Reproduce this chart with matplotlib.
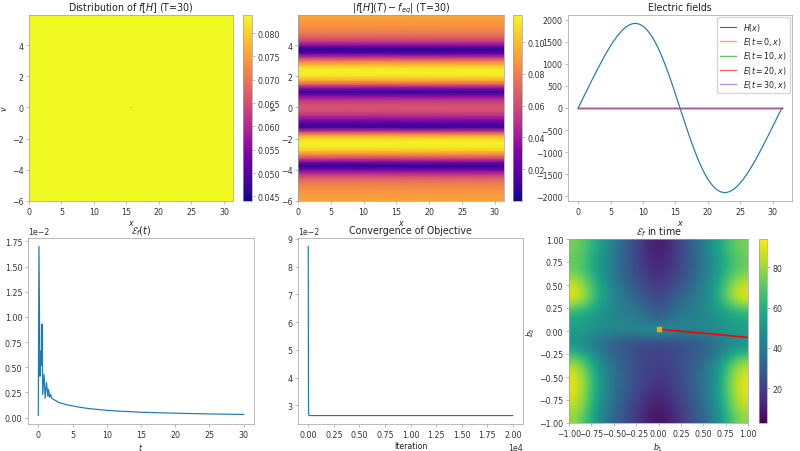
import numpy as np
import matplotlib
matplotlib.use("Agg")
import matplotlib.pyplot as plt

# --- data ---
# f[H] at T=30: almost flat, one dip at the centre
f_level = 0.0839
f_dip = 0.044
x_max = 31.4
v_min, v_max = -6.0, 5.93

# |f[H](T) - f_eq| profile along v (constant along x)
v_prof = [-6.0, -5.75, -5.5, -5.25, -5.0, -4.75, -4.5, -4.25, -4.0, -3.75,
          -3.5, -3.25, -3.0, -2.75, -2.5, -2.25, -2.0, -1.75, -1.5, -1.25,
          -1.0, -0.75, -0.5, -0.25, 0.0, 0.25, 0.5, 0.75, 1.0, 1.25,
          1.5, 1.75, 2.0, 2.25, 2.5, 2.75, 3.0, 3.25, 3.5, 3.75,
          4.0, 4.25, 4.5, 4.75, 5.0, 5.25, 5.5, 5.75, 6.0]
diff_prof = [0.092, 0.091, 0.089, 0.086, 0.082, 0.076, 0.066, 0.050, 0.030, 0.006,
             0.030, 0.060, 0.085, 0.104, 0.114, 0.115, 0.108, 0.088, 0.050, 0.010,
             0.018, 0.035, 0.050, 0.060, 0.064, 0.060, 0.050, 0.032, 0.008, 0.035,
             0.070, 0.095, 0.110, 0.116, 0.112, 0.098, 0.078, 0.048, 0.018, 0.006,
             0.035, 0.055, 0.068, 0.077, 0.083, 0.087, 0.089, 0.091, 0.092]

# electric fields
x_field = [0, 0.5, 1, 1.5, 2, 2.5, 3, 3.5, 4, 4.5, 5, 5.5, 6, 6.5, 7, 7.5,
           8, 8.5, 9, 9.5, 10, 10.5, 11, 11.5, 12, 12.5, 13, 13.5, 14, 14.5,
           15, 15.5, 15.71,
           15.92, 16.42, 16.92, 17.42, 17.92, 18.42, 18.92, 19.42, 19.92, 20.42,
           20.92, 21.42, 21.92, 22.42, 22.92, 23.42, 23.92, 24.42, 24.92, 25.42,
           25.92, 26.42, 26.92, 27.42, 27.92, 28.42, 28.92, 29.42, 29.92, 30.42,
           30.92, 31.42]
H_field = [0, 150, 300, 448, 596, 741, 884, 1024, 1159, 1288, 1409, 1522, 1624,
           1714, 1789, 1849, 1890, 1913, 1915, 1895, 1853, 1788, 1701, 1591,
           1459, 1307, 1137, 950, 750, 538, 318, 94, 0,
           -94, -318, -538, -750, -950, -1137, -1307, -1459, -1591, -1701,
           -1788, -1853, -1895, -1915, -1913, -1890, -1849, -1789, -1714, -1624,
           -1522, -1409, -1288, -1159, -1024, -884, -741, -596, -448, -300,
           -150, 0]
E_times = [0, 10, 20, 30]
E_x = [0, 31.42]
E_vals = [[0, 0], [0, 0], [0, 0], [0, 0]]

# E_f(t)
t_vals = [0, 0.1, 0.25, 0.35, 0.42, 0.48, 0.55, 0.65, 0.85, 1.0, 1.2, 1.4, 1.5,
          1.65, 1.8, 2.0, 2.5, 3, 4, 5, 6, 7, 8, 10, 12, 15, 20, 25, 30]
Ef_vals = [0.0002, 0.0170, 0.0041, 0.0066, 0.0052, 0.0065, 0.0093, 0.0023, 0.0043,
           0.0019, 0.0035, 0.0021, 0.0028, 0.0020, 0.0023, 0.0019, 0.0017, 0.0015,
           0.0013, 0.00116, 0.00103, 0.00093, 0.00085, 0.00072, 0.00063, 0.00053,
           0.00043, 0.00036, 0.00031]

# objective convergence
iters = [0, 25, 50, 100, 500, 2000, 20000]
objective = [0.0873, 0.0300, 0.0265, 0.0263, 0.0263, 0.0263, 0.0263]

# E_f over (b1, b2), rows from b2=1 down to b2=-1, cols b1=-1..1
Ef_map = [
    [76, 56, 36, 20, 6, 20, 36, 56, 76],
    [74, 54, 35, 20, 8, 20, 35, 54, 74],
    [72, 52, 34, 21, 10, 21, 34, 52, 72],
    [80, 54, 35, 23, 13, 23, 35, 54, 80],
    [90, 57, 38, 27, 17, 27, 38, 57, 90],
    [91, 57, 40, 33, 20, 33, 40, 57, 91],
    [68, 52, 42, 38, 24, 38, 42, 52, 68],
    [56, 48, 44, 42, 30, 42, 44, 48, 56],
    [55, 48, 44, 45, 55, 45, 44, 48, 55],
    [48, 36, 29, 24, 22, 24, 29, 36, 48],
    [62, 40, 29, 23, 21, 23, 29, 40, 62],
    [82, 46, 32, 23, 19, 23, 32, 46, 82],
    [90, 50, 33, 23, 16, 23, 33, 50, 90],
    [92, 51, 33, 22, 14, 22, 33, 51, 92],
    [90, 50, 32, 20, 10, 20, 32, 50, 90],
    [86, 48, 30, 18, 7, 18, 30, 48, 86],
    [80, 45, 28, 16, 4, 16, 28, 45, 80],
]
Ef_range = (2.7, 94)
b_path = [0.0, 1.0]
b2_path = [0.02, -0.07]

# --- style ---
plt.rcParams.update({
    "font.size": 5.7,
    "axes.titlesize": 6.85,
    "axes.titlepad": 3.5,
    "axes.labelsize": 5.7,
    "axes.labelpad": 2.0,
    "axes.linewidth": 0.5,
    "axes.edgecolor": "#a0a0a0",
    "xtick.color": "#a0a0a0",
    "ytick.color": "#a0a0a0",
    "xtick.labelcolor": "#333333",
    "ytick.labelcolor": "#333333",
    "xtick.major.size": 2,
    "ytick.major.size": 2,
    "xtick.major.width": 0.5,
    "ytick.major.width": 0.5,
    "xtick.major.pad": 2,
    "ytick.major.pad": 2,
    "text.color": "#222222",
    "axes.labelcolor": "#222222",
    "legend.fontsize": 5.7,
    "lines.linewidth": 0.85,
})

W, H = 800, 452
fig = plt.figure(figsize=(8, 4.52), dpi=100)


def box(x0, y0, x1, y1):
    return [x0 / W, 1 - y1 / H, (x1 - x0) / W, (y1 - y0) / H]


# top left
ax1 = fig.add_axes(box(29, 16, 233, 202))
cax1 = fig.add_axes(box(243, 16, 252, 202))
fgrid = np.full((400, 400), f_level)
fgrid[200, 200] = f_dip
im1 = ax1.imshow(fgrid, origin="lower", extent=[0, x_max, v_min, v_max],
                 aspect="auto", cmap="plasma")
ax1.set_title("Distribution of $f[H]$ (T=30)")
ax1.set_xlabel("$x$")
ax1.set_ylabel("$v$")
cb1 = fig.colorbar(im1, cax=cax1)
cb1.set_ticks([0.045, 0.050, 0.055, 0.060, 0.065, 0.070, 0.075, 0.080])
cb1.outline.set_edgecolor("#a0a0a0")
cb1.outline.set_linewidth(0.5)

# top middle
ax2 = fig.add_axes(box(298, 16, 504, 202))
cax2 = fig.add_axes(box(513, 16, 522, 202))
prof = np.array(diff_prof)
im2 = ax2.pcolormesh([0, x_max], v_prof, np.column_stack([prof, prof]),
                     shading="gouraud", cmap="plasma", vmin=0.0, vmax=0.117)
ax2.set_ylim(v_min, v_max)
ax2.set_xlim(0, x_max)
ax2.set_title("$|f[H](T) - f_{eq}|$ (T=30)")
ax2.set_xlabel("$x$")
ax2.set_ylabel("$v$")
cb2 = fig.colorbar(im2, cax=cax2)
cb2.set_ticks([0.02, 0.04, 0.06, 0.08, 0.10])
cb2.outline.set_edgecolor("#a0a0a0")
cb2.outline.set_linewidth(0.5)

# top right
ax3 = fig.add_axes(box(568, 16, 792, 202))
ax3.plot(x_field, H_field, label="$H(x)$")
for t, ev in zip(E_times, E_vals):
    ax3.plot(E_x, ev, lw=1.0, alpha=0.7, label=f"$E(t={t},x)$")
ax3.set_yticks([-2000, -1500, -1000, -500, 0, 500, 1000, 1500, 2000])
ax3.set_title("Electric fields")
ax3.set_xlabel("$x$")
ax3.legend(loc="upper right", borderaxespad=0.3, handlelength=2.0,
           labelspacing=0.3, framealpha=0.8)

# bottom left
ax4 = fig.add_axes(box(28, 239, 254, 425))
ax4.plot(t_vals, Ef_vals)
ax4.ticklabel_format(axis="y", style="sci", scilimits=(-2, -2))
ax4.set_title(r"$\mathcal{E}_f(t)$")
ax4.set_xlabel("$t$")

# bottom middle
ax5 = fig.add_axes(box(298, 239, 523, 425))
ax5.plot(iters, objective)
ax5.ticklabel_format(axis="y", style="sci", scilimits=(-2, -2))
ax5.ticklabel_format(axis="x", style="sci", scilimits=(4, 4))
ax5.set_title("Convergence of Objective")
ax5.set_xlabel("Iteration")

# bottom right
ax6 = fig.add_axes(box(569, 240, 748, 424))
cax6 = fig.add_axes(box(759, 240, 767, 424))
im6 = ax6.imshow(np.array(Ef_map), extent=[-1, 1, -1, 1], aspect="auto",
                 cmap="viridis", interpolation="bicubic",
                 vmin=Ef_range[0], vmax=Ef_range[1])
ax6.plot(b_path, b2_path, color="red", lw=1.2)
ax6.plot(b_path[0], b2_path[0], "s", color="orange", ms=2.2)
ax6.set_xlim(-1, 1)
ax6.set_ylim(-1, 1)
ax6.set_xticks(np.arange(-1, 1.01, 0.25))
ax6.set_yticks(np.arange(-1, 1.01, 0.25))
ax6.set_title(r"$\mathcal{E}_f$ in time")
ax6.set_xlabel("$b_1$")
ax6.set_ylabel("$b_2$")
cb6 = fig.colorbar(im6, cax=cax6)
cb6.set_ticks([20, 40, 60, 80])
cb6.outline.set_edgecolor("#a0a0a0")
cb6.outline.set_linewidth(0.5)

fig.savefig("out.png", dpi=100)
